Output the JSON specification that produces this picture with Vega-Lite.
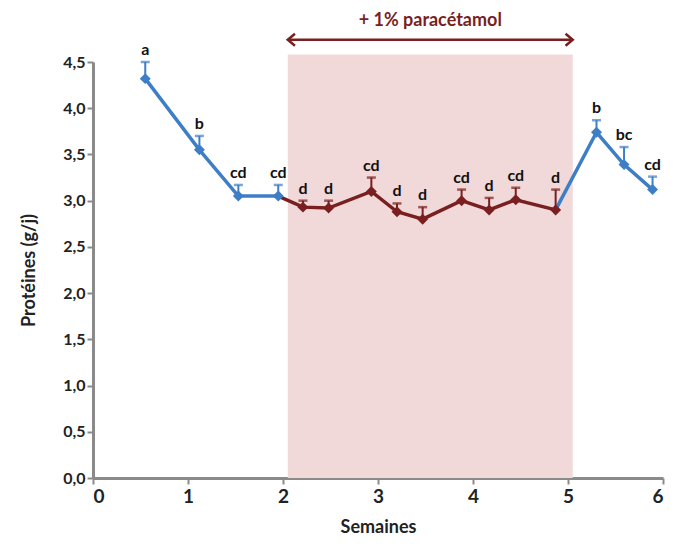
{
  "$schema": "https://vega.github.io/schema/vega-lite/v6.json",
  "width": 570,
  "height": 416,
  "padding": {"left": 93, "top": 62, "right": 20, "bottom": 66},
  "autosize": {"type": "none"},
  "background": "white",
  "config": {
    "view": {"stroke": null},
    "font": "Lato",
    "axis": {
      "grid": false,
      "domainColor": "#8a8a8a",
      "domainWidth": 3,
      "tickColor": "#8a8a8a",
      "tickWidth": 2,
      "tickSize": 6,
      "labelFont": "Lato",
      "labelFontWeight": "bold",
      "labelFontSize": 16,
      "labelColor": "#222222",
      "titleFont": "Lato",
      "titleFontWeight": "bold",
      "titleFontSize": 18,
      "titleColor": "#222222"
    }
  },
  "datasets": {
    "pts": [
      {"x": 0.55, "y": 4.32, "hi": 4.50, "lab": "a", "phase": "avant"},
      {"x": 1.12, "y": 3.55, "hi": 3.70, "lab": "b", "phase": "avant"},
      {"x": 1.53, "y": 3.05, "hi": 3.17, "lab": "cd", "phase": "avant"},
      {"x": 1.95, "y": 3.05, "hi": 3.17, "lab": "cd", "phase": "avant"},
      {"x": 2.21, "y": 2.93, "hi": 3.00, "lab": "d", "phase": "para"},
      {"x": 2.48, "y": 2.92, "hi": 3.00, "lab": "d", "phase": "para"},
      {"x": 2.93, "y": 3.10, "hi": 3.25, "lab": "cd", "phase": "para"},
      {"x": 3.20, "y": 2.88, "hi": 2.97, "lab": "d", "phase": "para"},
      {"x": 3.47, "y": 2.80, "hi": 2.93, "lab": "d", "phase": "para"},
      {"x": 3.88, "y": 3.00, "hi": 3.12, "lab": "cd", "phase": "para"},
      {"x": 4.17, "y": 2.90, "hi": 3.03, "lab": "d", "phase": "para"},
      {"x": 4.45, "y": 3.01, "hi": 3.14, "lab": "cd", "phase": "para"},
      {"x": 4.87, "y": 2.90, "hi": 3.12, "lab": "d", "phase": "para"},
      {"x": 5.30, "y": 3.74, "hi": 3.87, "lab": "b", "phase": "apres"},
      {"x": 5.59, "y": 3.39, "hi": 3.58, "lab": "bc", "phase": "apres"},
      {"x": 5.89, "y": 3.12, "hi": 3.26, "lab": "cd", "phase": "apres"}
    ],
    "lines": [
      {"x": 0.55, "y": 4.32, "serie": "avant"},
      {"x": 1.12, "y": 3.55, "serie": "avant"},
      {"x": 1.53, "y": 3.05, "serie": "avant"},
      {"x": 1.95, "y": 3.05, "serie": "avant"},
      {"x": 1.95, "y": 3.05, "serie": "para"},
      {"x": 2.21, "y": 2.93, "serie": "para"},
      {"x": 2.48, "y": 2.92, "serie": "para"},
      {"x": 2.93, "y": 3.10, "serie": "para"},
      {"x": 3.20, "y": 2.88, "serie": "para"},
      {"x": 3.47, "y": 2.80, "serie": "para"},
      {"x": 3.88, "y": 3.00, "serie": "para"},
      {"x": 4.17, "y": 2.90, "serie": "para"},
      {"x": 4.45, "y": 3.01, "serie": "para"},
      {"x": 4.87, "y": 2.90, "serie": "para"},
      {"x": 4.87, "y": 2.90, "serie": "apres"},
      {"x": 5.30, "y": 3.74, "serie": "apres"},
      {"x": 5.59, "y": 3.39, "serie": "apres"},
      {"x": 5.89, "y": 3.12, "serie": "apres"}
    ],
    "zone": [
      {"x1": 2.05, "x2": 5.05, "y1": 0, "y2": 4.58, "ya": 4.74, "yt": 4.94, "xm": 3.55, "txt": "+ 1% paracétamol"}
    ]
  },
  "encoding": {
    "x": {"type": "quantitative", "scale": {"domain": [0, 6], "nice": false}},
    "y": {"type": "quantitative", "scale": {"domain": [0, 4.5], "nice": false}}
  },
  "layer": [
    {
      "data": {"name": "zone"},
      "mark": {"type": "rect", "color": "#f1d9d9", "opacity": 1},
      "encoding": {
        "x": {"field": "x1", "type": "quantitative", "axis": {"title": "Semaines", "values": [0,1,2,3,4,5,6], "format": "d", "labelFontSize": 19, "labelPadding": 3, "titlePadding": 12}},
        "x2": {"field": "x2"},
        "y": {"field": "y1", "type": "quantitative", "axis": {"title": "Protéines (g/j)", "values": [0,0.5,1,1.5,2,2.5,3,3.5,4,4.5], "labelExpr": "replace(format(datum.value, '.1f'), '.', ',')", "titlePadding": 24}},
        "y2": {"field": "y2"}
      }
    },
    {
      "data": {"name": "zone"},
      "mark": {"type": "rule", "color": "#7a1f1f", "strokeWidth": 2.5},
      "encoding": {
        "x": {"field": "x1", "type": "quantitative"},
        "x2": {"field": "x2"},
        "y": {"field": "ya", "type": "quantitative"}
      }
    },
    {
      "data": {"name": "zone"},
      "mark": {"type": "point", "shape": "M1.2,-1L0,0L1.2,1", "filled": false, "color": "#7a1f1f", "strokeWidth": 2.5, "size": 144, "opacity": 1},
      "encoding": {
        "x": {"field": "x1", "type": "quantitative"},
        "y": {"field": "ya", "type": "quantitative"}
      }
    },
    {
      "data": {"name": "zone"},
      "mark": {"type": "point", "shape": "M-1.2,-1L0,0L-1.2,1", "filled": false, "color": "#7a1f1f", "strokeWidth": 2.5, "size": 144, "opacity": 1},
      "encoding": {
        "x": {"field": "x2", "type": "quantitative"},
        "y": {"field": "ya", "type": "quantitative"}
      }
    },
    {
      "data": {"name": "zone"},
      "mark": {"type": "text", "color": "#7a1f1f", "fontWeight": "bold", "fontSize": 18, "font": "Lato"},
      "encoding": {
        "x": {"field": "xm", "type": "quantitative"},
        "y": {"field": "yt", "type": "quantitative"},
        "text": {"field": "txt"}
      }
    },
    {
      "data": {"name": "lines"},
      "mark": {"type": "line", "strokeWidth": 3.5},
      "encoding": {
        "x": {"field": "x", "type": "quantitative"},
        "y": {"field": "y", "type": "quantitative"},
        "detail": {"field": "serie"},
        "color": {"field": "serie", "type": "nominal", "scale": {"domain": ["avant", "para", "apres"], "range": ["#3e7ec6", "#7a1f1f", "#3e7ec6"]}, "legend": null}
      }
    },
    {
      "data": {"name": "pts"},
      "mark": {"type": "rule", "strokeWidth": 2},
      "encoding": {
        "x": {"field": "x", "type": "quantitative"},
        "y": {"field": "y", "type": "quantitative"},
        "y2": {"field": "hi"},
        "color": {"field": "phase", "type": "nominal", "scale": {"domain": ["avant", "para", "apres"], "range": ["#2f64a8", "#6a1515", "#2f64a8"]}, "legend": null}
      }
    },
    {
      "data": {"name": "pts"},
      "mark": {"type": "tick", "orient": "horizontal", "size": 9, "thickness": 2.5},
      "encoding": {
        "x": {"field": "x", "type": "quantitative"},
        "y": {"field": "hi", "type": "quantitative"},
        "color": {"field": "phase", "type": "nominal", "scale": {"domain": ["avant", "para", "apres"], "range": ["#2f64a8", "#6a1515", "#2f64a8"]}, "legend": null}
      }
    },
    {
      "data": {"name": "pts"},
      "mark": {"type": "point", "shape": "diamond", "filled": true, "size": 120, "opacity": 1, "strokeWidth": 1},
      "encoding": {
        "x": {"field": "x", "type": "quantitative"},
        "y": {"field": "y", "type": "quantitative"},
        "color": {"field": "phase", "type": "nominal", "scale": {"domain": ["avant", "para", "apres"], "range": ["#2f6bb3", "#6a1515", "#2f6bb3"]}, "legend": null}
      }
    },
    {
      "data": {"name": "pts"},
      "mark": {"type": "text", "fontWeight": "bold", "fontSize": 16, "font": "Lato", "color": "#111111", "dy": -12},
      "encoding": {
        "x": {"field": "x", "type": "quantitative"},
        "y": {"field": "hi", "type": "quantitative"},
        "text": {"field": "lab"}
      }
    }
  ]
}
